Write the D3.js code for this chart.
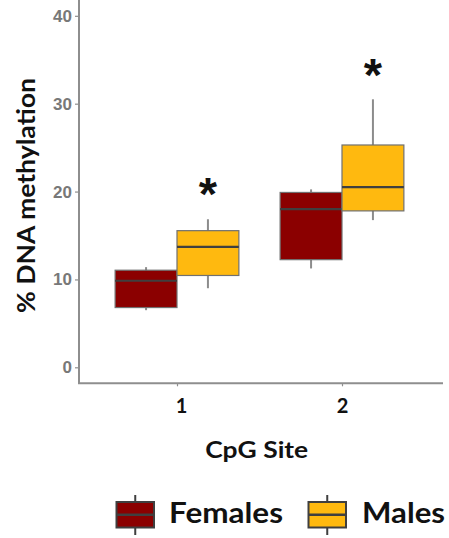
<!DOCTYPE html>
<html>
<head>
<meta charset="utf-8">
<script src="https://cdn.jsdelivr.net/npm/d3@7"></script>
<style>
  html, body { margin: 0; padding: 0; background: #fff; }
  svg { display: block; }
</style>
</head>
<body>
<svg id="chart" width="449" height="538"></svg>
<script>
// CpG sites on the x axis and the two sex groups
const sites = ["1", "2"];
const groups = ["Females", "Males"];
const groupColors = ["#8b0000", "#ffb90f"];

// Box statistics per site: [lower whisker, Q1, median, Q3, upper whisker]
const femaleStats = [
  [6.5, 6.8, 9.85, 11.05, 11.4],
  [11.25, 12.25, 18.0, 19.9, 20.25]
];
const maleStats = [
  [9.0, 10.45, 13.7, 15.55, 16.85],
  [16.75, 17.8, 20.5, 25.3, 30.5]
];

// Significance markers: site, group and height (in % units) of each asterisk
const starSites = ["1", "2"];
const starGroup = ["Males", "Males"];
const starValues = [20.8, 34.3];

const yTicks = [0, 10, 20, 30, 40];

const svg = d3.select("#chart");
const axisColor = "#8e8e8e";

const y = d3.scaleLinear().domain([-1.82, 41.8]).range([383.3, 0]);
const x = d3.scalePoint().domain(sites).range([78, 441]).padding(0.6);
const step = x.step();
const dodge = d3.scaleBand().domain(groups).range([-step * 0.375, step * 0.375]);

// Boxes
const series = [femaleStats, maleStats];
series.forEach((stats, gi) => {
  const g = svg.append("g");
  stats.forEach((s, si) => {
    const [lo, q1, med, q3, hi] = s;
    const x0 = x(sites[si]) + dodge(groups[gi]);
    const w = dodge.bandwidth();
    const cx = x0 + w / 2;
    g.append("line")
      .attr("x1", cx).attr("x2", cx)
      .attr("y1", y(hi)).attr("y2", y(lo))
      .attr("stroke", "#8c8c8c").attr("stroke-width", 2);
    g.append("rect")
      .attr("x", x0).attr("width", w)
      .attr("y", y(q3)).attr("height", y(q1) - y(q3))
      .attr("fill", groupColors[gi])
      .attr("stroke", "#707070").attr("stroke-width", 1.2);
    g.append("line")
      .attr("x1", x0).attr("x2", x0 + w)
      .attr("y1", y(med)).attr("y2", y(med))
      .attr("stroke", "#3f3f3f").attr("stroke-width", 2.2);
  });
});

// Axes
const yAxis = svg.append("g").attr("transform", "translate(79,0)")
  .call(d3.axisLeft(y).tickValues(yTicks).tickSize(4).tickPadding(3));
yAxis.select(".domain").remove();
yAxis.selectAll(".tick line").attr("stroke", axisColor).attr("stroke-width", 1.2);
yAxis.selectAll(".tick text")
  .style("font-family", "'Liberation Sans', Arial, sans-serif")
  .style("font-weight", "bold").style("font-size", "17px")
  .attr("fill", "#787878");

const xAxis = svg.append("g").attr("transform", "translate(0,383.3)")
  .call(d3.axisBottom(x).tickSize(3).tickPadding(13));
xAxis.select(".domain").remove();
xAxis.selectAll(".tick line").attr("stroke", axisColor).attr("stroke-width", 1.2);
xAxis.selectAll(".tick text")
  .style("font-family", "Lato, 'Open Sans', sans-serif")
  .style("font-weight", "bold").style("font-size", "20px")
  .attr("fill", "#111")
  .attr("dx", (d, i) => i === 0 ? 4 : 0);

svg.append("line").attr("x1", 79).attr("x2", 79).attr("y1", 0).attr("y2", 384)
  .attr("stroke", axisColor).attr("stroke-width", 2);
svg.append("line").attr("x1", 78).attr("x2", 443).attr("y1", 383.3).attr("y2", 383.3)
  .attr("stroke", axisColor).attr("stroke-width", 2);

// Axis titles
svg.append("text")
  .attr("transform", "translate(34.5,195.5) rotate(-90)")
  .attr("text-anchor", "middle")
  .attr("font-family", "Lato, 'Open Sans', sans-serif")
  .attr("font-weight", "bold").attr("font-size", 25)
  .attr("fill", "#111")
  .attr("textLength", 235).attr("lengthAdjust", "spacingAndGlyphs")
  .text("% DNA methylation");

svg.append("text")
  .attr("x", 256.7).attr("y", 457.5)
  .attr("text-anchor", "middle")
  .attr("font-family", "Lato, 'Open Sans', sans-serif")
  .attr("font-weight", "bold").attr("font-size", 22)
  .attr("fill", "#111")
  .attr("textLength", 103).attr("lengthAdjust", "spacingAndGlyphs")
  .text("CpG Site");

// Significance asterisks, centred on their target height
starSites.forEach((s, i) => {
  const cx = x(s) + dodge(starGroup[i]) + dodge.bandwidth() / 2;
  const t = svg.append("text")
    .attr("x", cx).attr("y", 0)
    .attr("text-anchor", "middle")
    .attr("font-family", "'Liberation Sans', Arial, sans-serif")
    .attr("font-weight", "bold").attr("font-size", 47)
    .attr("fill", "#111")
    .text("*");
  const bb = t.node().getBBox();
  // shift so the glyph's visual centre sits at the value
  const glyphCenter = bb.y + bb.height * 0.33;
  t.attr("y", y(starValues[i]) - glyphCenter);
});

// Legend
const legendX = [116.5, 308.5];
const legendTextX = [169, 362];
const legendTextW = [114, 83];
groups.forEach((gname, i) => {
  const g = svg.append("g");
  const kx = legendX[i], kw = 37.5, ky = 502, kh = 25.5;
  g.append("line").attr("x1", kx + kw / 2).attr("x2", kx + kw / 2)
    .attr("y1", 495).attr("y2", 535)
    .attr("stroke", "#3f3f3f").attr("stroke-width", 2);
  g.append("rect").attr("x", kx).attr("y", ky).attr("width", kw).attr("height", kh)
    .attr("fill", groupColors[i]).attr("stroke", "#3f3f3f").attr("stroke-width", 2);
  g.append("line").attr("x1", kx).attr("x2", kx + kw)
    .attr("y1", ky + kh / 2).attr("y2", ky + kh / 2)
    .attr("stroke", "#3f3f3f").attr("stroke-width", 2.5);
  g.append("text")
    .attr("x", legendTextX[i]).attr("y", 523)
    .attr("font-family", "Lato, 'Open Sans', sans-serif")
    .attr("font-weight", "bold").attr("font-size", 28)
    .attr("fill", "#111")
    .attr("textLength", legendTextW[i]).attr("lengthAdjust", "spacingAndGlyphs")
    .text(gname);
});
</script>
</body>
</html>
